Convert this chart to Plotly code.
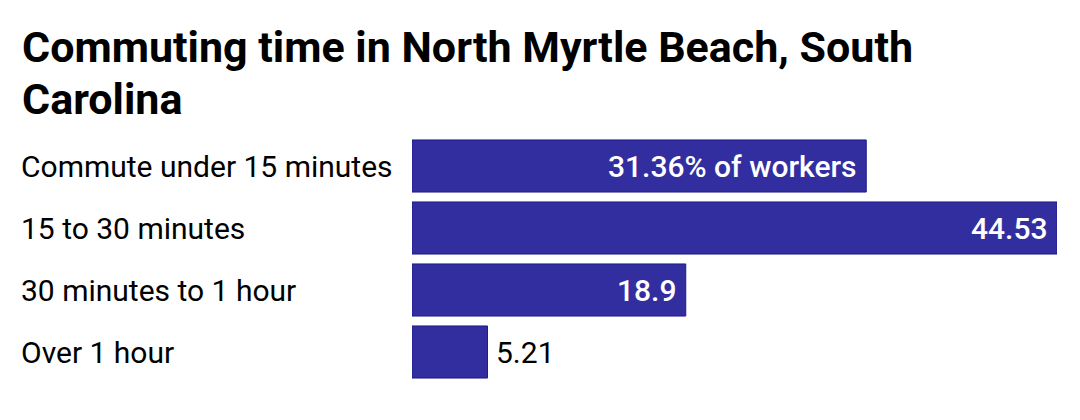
import plotly.graph_objects as go

categories = ["Commute under 15 minutes", "15 to 30 minutes", "30 minutes to 1 hour", "Over 1 hour"]
values = [31.36, 44.53, 18.9, 5.21]
value_labels = ["31.36% of workers", "44.53", "18.9", "5.21"]
label_inside = [True, True, True, False]
title_lines = ["Commuting time in North Myrtle Beach, South", "Carolina"]

W, H = 1080, 420
L, R, T, B = 412, 23, 135, 37
PH = H - T - B
PW = W - L - R

fig = go.Figure()
fig.add_trace(go.Bar(
    x=values, y=categories, orientation="h",
    marker=dict(color="#332ea0", line=dict(color="#1c1a8c", width=1)),
    hoverinfo="skip",
))

for c in categories:
    fig.add_annotation(
        x=(19 - L) / PW, xref="paper", y=c, yref="y",
        text=c, showarrow=False, xanchor="left", yanchor="middle",
        font=dict(size=30, family="Roboto", color="black"),
    )

for c, v, lab, inside in zip(categories, values, value_labels, label_inside):
    fig.add_annotation(
        x=v, xref="x", y=c, yref="y", text=lab, showarrow=False,
        xanchor="right" if inside else "left", yanchor="middle",
        xshift=-7 if inside else 7,
        font=dict(size=30, family="Roboto",
                  color="white" if inside else "black",
                  weight=500 if inside else 400),
    )

for line, ypx in zip(title_lines, [47, 99]):
    fig.add_annotation(
        x=(20 - L) / PW, xref="paper",
        y=1 + (T - ypx) / PH, yref="paper",
        text="<b>" + line + "</b>",
        showarrow=False, xanchor="left", yanchor="middle", align="left",
        font=dict(size=43, family="Roboto", color="black"),
    )

fig.update_layout(
    width=W, height=H,
    margin=dict(l=L, r=R, t=T, b=B),
    paper_bgcolor="white", plot_bgcolor="white",
    bargap=0.16,
    showlegend=False,
    xaxis=dict(range=[0, max(values)], visible=False, fixedrange=True),
    yaxis=dict(autorange="reversed", showticklabels=False, showgrid=False,
               zeroline=False, fixedrange=True),
)

fig.write_html("out.html", config={"displayModeBar": False},
               post_script="document.body.style.margin='0';document.body.style.overflow='hidden';")
